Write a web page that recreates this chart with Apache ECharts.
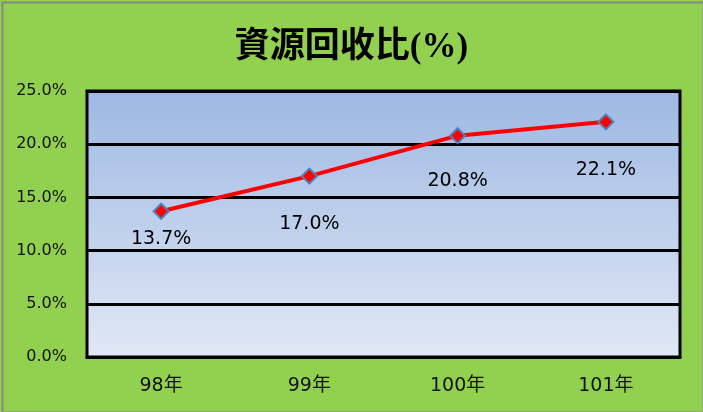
<!DOCTYPE html>
<html><head><meta charset="utf-8">
<script src="https://cdn.jsdelivr.net/npm/echarts@6/dist/echarts.min.js"></script>
<style>html,body{margin:0;padding:0;}#c{width:703px;height:412px;}</style>
</head><body><div id="c"></div>
<script>
const categories = ['98年', '99年', '100年', '101年'];
const values = [13.7, 17.0, 20.8, 22.1];
const yTicks = [0, 5, 10, 15, 20, 25];
const labelGaps = [10, 30, 27, 30];

const chart = echarts.init(document.getElementById('c'));
chart.setOption({
  backgroundColor: '#92D050',
  animation: false,
  title: {
    text: '資源回收比(%)',
    left: 'center',
    top: 25,
    textStyle: { fontFamily: '"Liberation Serif", "Noto Sans CJK TC", serif', fontWeight: 'bold', fontSize: 35, color: '#000' }
  },
  graphic: [{
    type: 'rect', left: 0, top: 0, z: 100,
    shape: { x: 1, y: 1, width: 701, height: 410 },
    style: { fill: 'none', stroke: '#888', lineWidth: 2 }
  }],
  grid: {
    left: 87, right: 23, top: 91, bottom: 55,
    show: true,
    borderColor: '#000', borderWidth: 3,
    backgroundColor: new echarts.graphic.LinearGradient(0, 0, 0, 1, [
      { offset: 0, color: '#9DB8E3' },
      { offset: 1, color: '#E1E8F5' }
    ])
  },
  xAxis: {
    type: 'category',
    data: categories,
    boundaryGap: true,
    axisLine: { show: true, lineStyle: { color: '#000', width: 3 } },
    axisTick: { show: false },
    axisLabel: { margin: 20, fontSize: 19, color: '#111', fontFamily: '"DejaVu Sans", "Noto Sans CJK TC", sans-serif' }
  },
  yAxis: {
    type: 'value',
    min: 0, max: 25, interval: 5,
    axisLine: { show: false },
    axisTick: { show: false },
    splitLine: { lineStyle: { color: '#000', width: 3 } },
    axisLabel: {
      margin: 20, fontSize: 16, color: '#111', fontFamily: '"DejaVu Sans", sans-serif',
      formatter: v => yTicks.includes(v) ? v.toFixed(1) + '%' : ''
    }
  },
  series: [{
    type: 'line',
    data: values.map((v, i) => ({ value: v, label: { distance: labelGaps[i] } })),
    symbol: 'diamond',
    symbolSize: 15,
    lineStyle: { color: '#FF0000', width: 4 },
    itemStyle: { color: '#FF0000', borderColor: '#4F81BD', borderWidth: 2 },
    label: {
      show: true, position: 'bottom',
      fontSize: 19, color: '#000', fontFamily: '"DejaVu Sans", sans-serif',
      formatter: p => p.value.toFixed(1) + '%'
    }
  }]
});
</script></body></html>
